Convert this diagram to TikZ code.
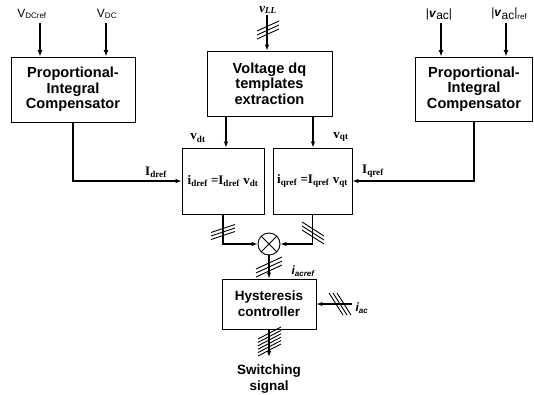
\documentclass[tikz,border=0pt]{standalone}
\usepackage{fontspec}
\setmainfont{Liberation Serif}
\setsansfont{Liberation Sans}
\usetikzlibrary{arrows.meta}
\begin{document}
\begin{tikzpicture}[x=1pt,y=-1pt,
  box/.style={draw, line width=0.9pt, align=center, inner sep=0pt,
    font=\sffamily\bfseries\fontsize{14.6}{15.7}\selectfont},
  sbox/.style={box, font=\sffamily\bfseries\fontsize{13.5}{16}\selectfont},
  fbox/.style={draw, line width=0.9pt, inner sep=0pt,
    font=\bfseries\fontsize{13}{15}\selectfont},
  arr/.style={line width=1.1pt, -{Latex[length=6pt,width=4.5pt]}},
  inarr/.style={line width=1.6pt, -{Latex[length=6.5pt,width=5pt]}},
  hatch/.style={line width=0.9pt},
  lab/.style={inner sep=0pt, font=\sffamily\fontsize{12}{14}\selectfont},
  tlab/.style={inner sep=0pt, font=\bfseries\fontsize{13}{15}\selectfont},
  ilab/.style={inner sep=0pt, font=\sffamily\bfseries\itshape\fontsize{12}{14}\selectfont}]
\useasboundingbox (0,0) rectangle (534,394);

% boxes
\node[box, minimum width=124pt, minimum height=65pt] (pi1) at (73,89.5) {Proportional-\\Integral\\Compensator};
\node[box, minimum width=125pt, minimum height=65pt] (vt) at (269.5,83.5) {Voltage dq\\templates\\extraction};
\node[box, minimum width=117pt, minimum height=64pt] (pi2) at (474,89) {Proportional-\\Integral\\Compensator};
\node[fbox, minimum width=82pt, minimum height=66pt] (dref) at (223,181) {i\textsubscript{dref} =I\textsubscript{dref} v\textsubscript{dt}};
\node[fbox, minimum width=79pt, minimum height=66pt] (qref) at (312.5,181) {i\textsubscript{qref} =I\textsubscript{qref} v\textsubscript{qt}};
\node[draw, circle, line width=0.9pt, minimum size=22pt, inner sep=0pt] (m) at (269,244) {};
\draw[line width=0.9pt] (m.45) -- (m.225) (m.135) -- (m.315);
\node[sbox, minimum width=94pt, minimum height=50pt] (hy) at (269,304) {Hysteresis\\controller};
\node[sbox, draw=none, anchor=north, inner xsep=0pt, inner ysep=7pt] (sw) at (269,357) {Switching\\signal};

% input labels
\node[lab] (vdcref) at (32,14) {V\textsubscript{DCref}};
\node[lab] (vdc) at (107,14) {V\textsubscript{DC}};
\node[tlab] (vll) at (268,10) {\textit{v}\textsubscript{\textit{LL}}};
\node[lab] (vac) at (439,14) {|\textbf{\textit{v}}\raisebox{-2.5pt}{ac}|};
\node[lab] (vacref) at (509,14) {|\textbf{\textit{v}}\raisebox{-2.5pt}{ac}|\raisebox{-3pt}{\fontsize{8}{9}\selectfont ref}};

\coordinate (a1) at (40,23);
\coordinate (a2) at (106,23);
\coordinate (a3) at (267,15);
\coordinate (a4) at (441,23);
\coordinate (a5) at (506,23);
\draw[inarr] (a1) -- (a1 |- pi1.north);
\draw[inarr] (a2) -- (a2 |- pi1.north);
\draw[arr] (a3) -- (a3 |- vt.north);
\draw[inarr] (a4) -- (a4 |- pi2.north);
\draw[inarr] (a5) -- (a5 |- pi2.north);
\foreach \d in {-4,0,4} \draw[hatch] (257,{30+\d+5}) -- (279,{30+\d-5});

% connections
\coordinate (c1) at (226,116);
\coordinate (c2) at (313,116);
\draw[arr] (c1) -- (c1 |- dref.north);
\draw[arr] (c2) -- (c2 |- qref.north);
\node[tlab] (vdt) at (198,138) {v\textsubscript{dt}};
\node[tlab] (vqt) at (341,137) {v\textsubscript{qt}};

\draw[arr] (pi1.south) |- (dref.west);
\draw[arr] (pi2.south) |- (qref.east);
\node[tlab] (idref) at (156,172) {I\textsubscript{dref}};
\node[tlab] (iqref) at (373,171) {I\textsubscript{qref}};

\draw[arr] (dref.south) |- (m.west);
\draw[arr] (qref.south) |- (m.east);
\foreach \d in {-3.5,0,3.5} \draw[hatch] (211,{232+\d+4}) -- (235,{232+\d-4});
\foreach \d in {-4,0,4} \draw[hatch] (302,{233+\d-7}) -- (324,{233+\d+7});

\draw[arr] (m.south) -- (hy.north);
\foreach \d in {-4,0,4} \draw[hatch] (256,{267+\d+6}) -- (282,{267+\d-6});
\node[ilab] (iacref) at (303,271) {i\textsubscript{acref}};

\coordinate (iac) at (352,304);
\draw[arr] (iac) -- (hy.east);
\foreach \d in {-4,0,4} \draw[hatch] ({333+\d},293) -- ({347+\d},315);
\node[ilab] (iaclab) at (362,308) {i\textsubscript{ac}};

\draw[arr] (hy.south) -- (sw.north);
\foreach \d in {0,1,2,3,4,5} \draw[hatch] (258,{333+3.4*\d+6}) -- (281,{333+3.4*\d-6});
\end{tikzpicture}
\end{document}
